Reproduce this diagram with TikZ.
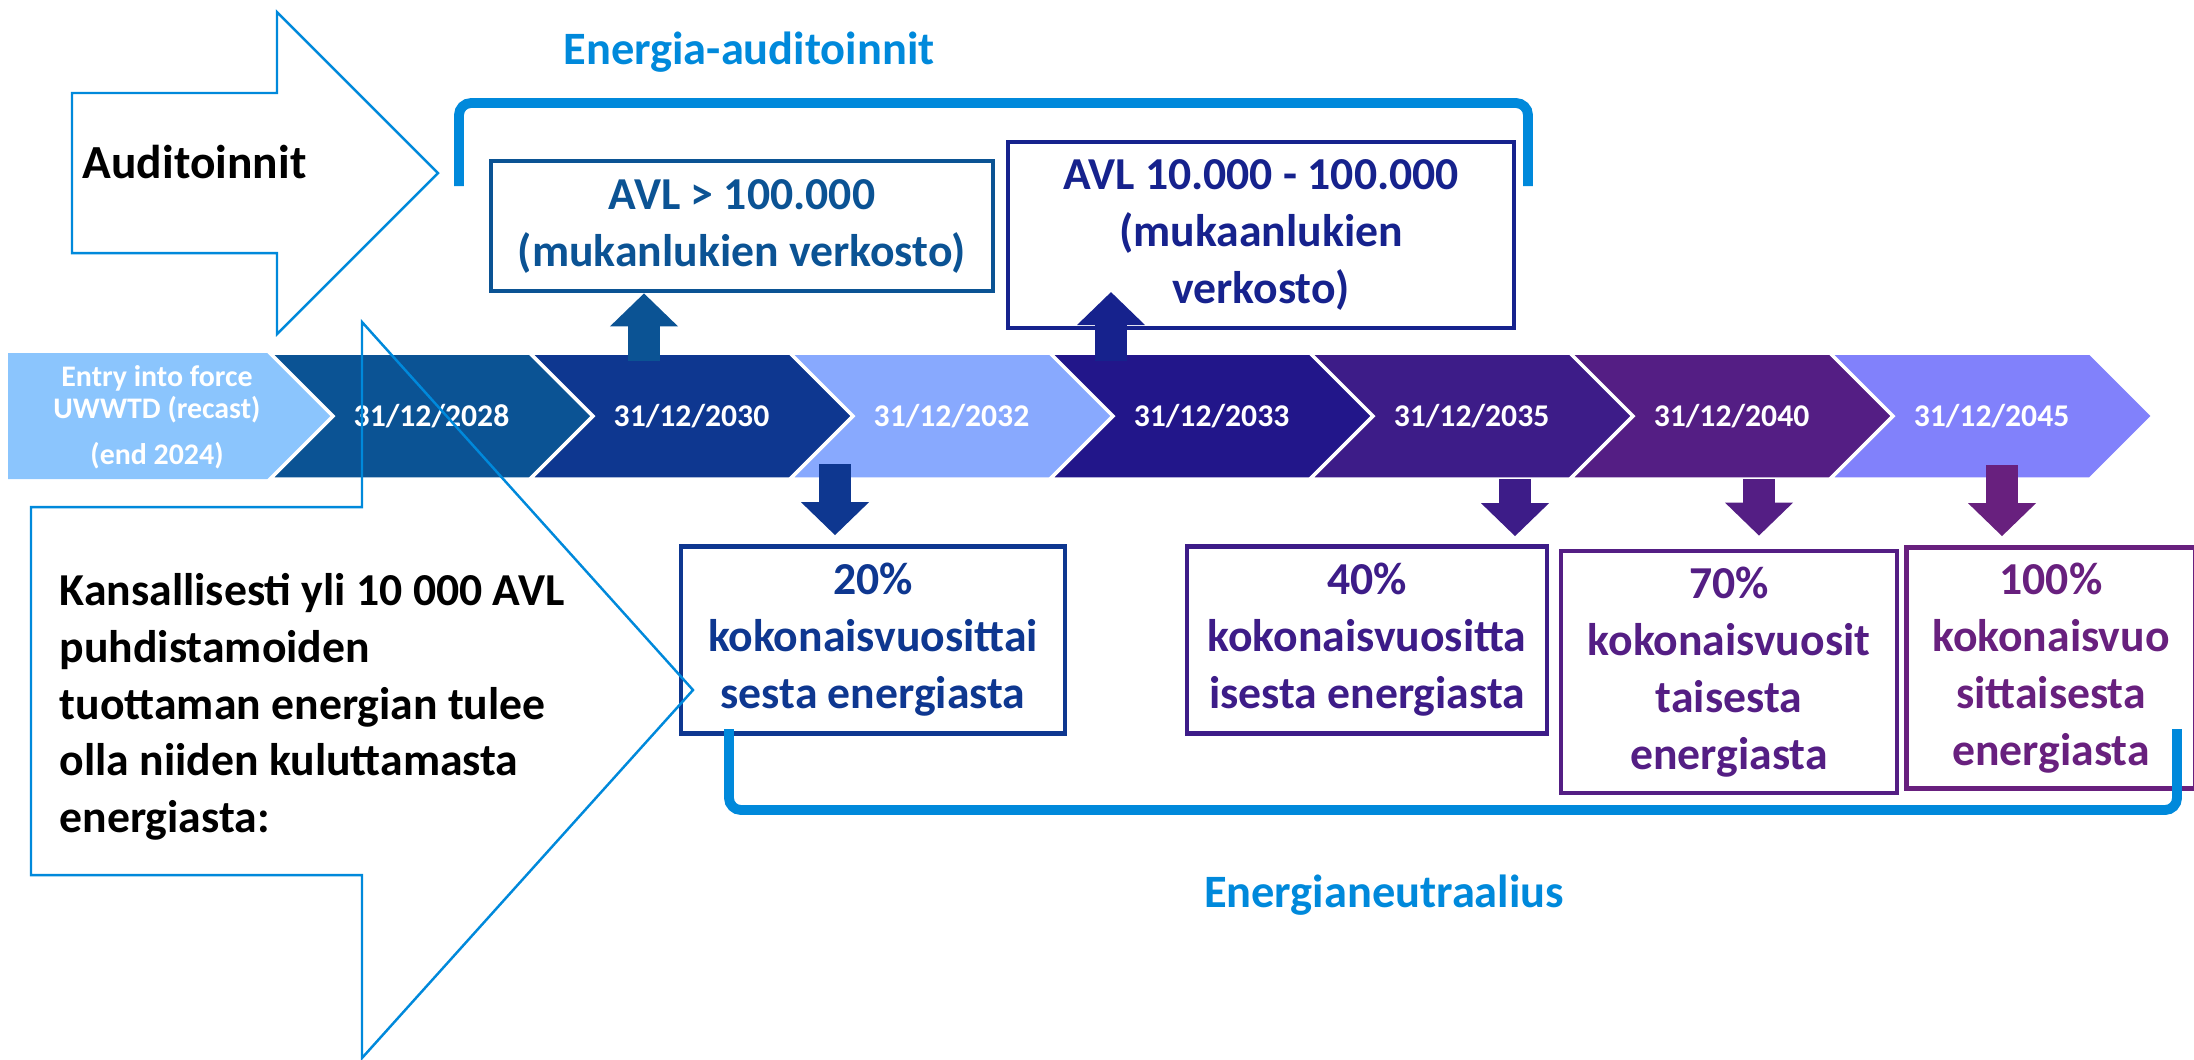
\documentclass[tikz,border=0pt]{standalone}
\usepackage{fontspec}
\setmainfont{Carlito}
\usepackage{tikz}
\usetikzlibrary{arrows.meta}
\definecolor{linkblue}{HTML}{0089DB}
\definecolor{seglight}{HTML}{8BC5FD}
\definecolor{segteal}{HTML}{0B5394}
\definecolor{segroyal}{HTML}{0E3790}
\definecolor{segpale}{HTML}{88A9FE}
\definecolor{segindigo}{HTML}{22168A}
\definecolor{segviolet}{HTML}{3D1C88}
\definecolor{segplum}{HTML}{541E84}
\definecolor{seglilac}{HTML}{8181FB}
\definecolor{avlblue}{HTML}{16228D}
\definecolor{goalpurple}{HTML}{68207E}

\begin{document}
\begin{tikzpicture}[x = 0.01cm, y = -0.01cm,
		chev/.style = {fill = #1, draw = white, line width = 1pt},
		datetxt/.style = {text = white, font = \fontsize{9}{11}\selectfont\bfseries, inner sep = 0pt},
		goalbox/.style = {draw = #1, text = #1, line width = 1.3pt, align = center, font = \fontsize{13}{16.2}\selectfont\bfseries, inner sep = 0pt},
		blockarr/.style = {#1, line width = 0.32cm, -{Triangle[width = 0.66cm, length = 0.33cm]}},
		outarrow/.style = {draw = linkblue, line width = 0.7pt},
		bracket/.style = {draw = linkblue, line width = 2.8pt, rounded corners = 0.12cm},
		bluetxt/.style = {text = linkblue, font = \fontsize{13.2}{16}\selectfont\bfseries, inner sep = 0pt}]
		\useasboundingbox (0,0) rectangle (2194,1059);
		\fill[seglight] (8,353) -- (270,353) -- (333,416) -- (270,479) -- (8,479) -- cycle;
		\foreach \c [count = \i] in {segteal, segroyal, segpale, segindigo, segviolet, segplum, seglilac}
			\draw[chev = \c] ({270+260*(\i-1)},353) -- ++(260,0) -- ++(63,63) -- ++(-63,63) -- ++(-260,0) -- ++(63,-63) -- cycle;
		\node[datetxt, align = center, font = \fontsize{8.5}{9.1}\selectfont\bfseries] (entry) at (157,394) {Entry into force\\UWWTD (recast)};
		\node[datetxt, font = \fontsize{8.5}{9.1}\selectfont\bfseries] (endyear) at (157,456) {(end 2024)};
		\foreach \d [count = \i] in {2028, 2030, 2032, 2033, 2035, 2040, 2045}
			\node[datetxt] (d\d) at ({270+260*(\i-1)+161.5},416) {31/12/\d};
		\node[goalbox = segteal, minimum width = 5.02cm, minimum height = 1.30cm] (avlbig) at (742,226) {AVL > 100.000\\(mukanlukien verkosto)};
		\node[goalbox = avlblue, minimum width = 5.06cm, minimum height = 1.86cm] (avlmid) at (1261,235) {AVL 10.000 - 100.000\\(mukaanlukien\\verkosto)};
		\node[goalbox = segroyal, minimum width = 3.84cm, minimum height = 1.87cm] (pct20) at (873,640) {20\%\\kokonaisvuosittai\\sesta energiasta};
		\node[goalbox = segviolet, minimum width = 3.60cm, minimum height = 1.87cm] (pct40) at (1367,640) {40\%\\kokonaisvuositta\\isesta energiasta};
		\node[goalbox = segplum, minimum width = 3.36cm, minimum height = 2.42cm] (pct70) at (1729,672) {70\%\\kokonaisvuosit\\taisesta\\energiasta};
		\node[goalbox = goalpurple, minimum width = 2.89cm, minimum height = 2.41cm] (pct100) at (2051,668) {100\%\\kokonaisvuo\\sittaisesta\\energiasta};
		\coordinate (upbig) at (644,361);
		\coordinate (upmid) at (1111,361);
		\coordinate (upmidtip) at (1111,292);
		\coordinate (dn20) at (835,464);
		\coordinate (dn40) at (1515,479);
		\coordinate (dn70) at (1759,479);
		\coordinate (dn100) at (2002,465);
		\draw[blockarr = segteal] (upbig) -- (upbig |- avlbig.south);
		\draw[blockarr = avlblue] (upmid) -- (upmidtip);
		\draw[blockarr = segroyal, shorten >= 0.09cm] (dn20) -- (dn20 |- pct20.north);
		\draw[blockarr = segviolet, shorten >= 0.08cm] (dn40) -- (dn40 |- pct40.north);
		\draw[blockarr = segplum, shorten >= 0.13cm] (dn70) -- (dn70 |- pct70.north);
		\draw[blockarr = goalpurple, shorten >= 0.09cm] (dn100) -- (dn100 |- pct100.north);
		\draw[outarrow] (72,93) -- (277,93) -- (277,12) -- (438,173) -- (277,334) -- (277,253) -- (72,253) -- cycle;
		\node[anchor = base west, inner sep = 0pt, font = \fontsize{13.5}{16}\selectfont\bfseries] (audit) at (82,178) {Auditoinnit};
		\draw[outarrow] (31,507) -- (362,507) -- (362,322) -- (693,690) -- (362,1058) -- (362,875) -- (31,875) -- cycle;
		\node[anchor = north west, inner sep = 0pt, align = left, font = \fontsize{13}{16.1}\selectfont\bfseries] (national) at (59,573) {Kansallisesti yli 10 000 AVL\\puhdistamoiden\\tuottaman energian tulee\\olla niiden kuluttamasta\\energiasta:};
		\draw[bracket] (459,186) -- (459,103) -- (1528,103) -- (1528,186);
		\draw[bracket] (729,729) -- (729,810) -- (2177,810) -- (2177,729);
		\node[bluetxt, anchor = base] (auditlabel) at (749,64) {Energia-auditoinnit};
		\node[bluetxt, anchor = base] (neutrallabel) at (1384,907) {Energianeutraalius};
	\end{tikzpicture}
\end{document}
